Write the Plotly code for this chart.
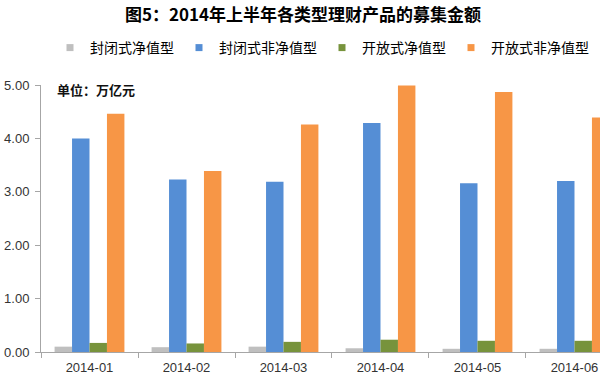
import plotly.graph_objects as go

categories = ["2014-01", "2014-02", "2014-03", "2014-04", "2014-05", "2014-06"]
closed_nav = [0.10, 0.09, 0.10, 0.07, 0.06, 0.06]
closed_non_nav = [4.00, 3.23, 3.19, 4.29, 3.16, 3.20]
open_nav = [0.17, 0.16, 0.19, 0.23, 0.21, 0.21]
open_non_nav = [4.46, 3.39, 4.26, 4.99, 4.87, 4.39]
y_ticks = [0, 1, 2, 3, 4, 5]
y_tick_labels = ["0.00", "1.00", "2.00", "3.00", "4.00", "5.00"]

series = [
    ("封闭式净值型", closed_nav, "#BFBFBF"),
    ("封闭式非净值型", closed_non_nav, "#558ED5"),
    ("开放式净值型", open_nav, "#77933C"),
    ("开放式非净值型", open_non_nav, "#F79646"),
]

cjk = "Noto Sans CJK SC"
latin = "Liberation Sans, Arial"

L, R, T, B = 41, 0, 85, 20
PW, PH = 600 - L - R, 375 - T - B

fig = go.Figure()
for name, vals, color in series:
    fig.add_trace(go.Bar(x=categories, y=vals, name=name, legendgroup=name,
                         showlegend=False,
                         marker=dict(color=color, line=dict(width=0))))
for name, vals, color in series:
    # legend key: small square swatch, as in the reference
    fig.add_trace(go.Scatter(x=[None], y=[None], name=name, legendgroup=name,
                             mode="markers", hoverinfo="skip",
                             marker=dict(symbol="square", size=7, color=color)))

fig.update_layout(
    width=600, height=375,
    margin=dict(l=L, r=R, t=T, b=B),
    paper_bgcolor="white", plot_bgcolor="white",
    barmode="group", bargap=0.28, bargroupgap=0,
    title=dict(text="<b>图5：2014年上半年各类型理财产品的募集金额</b>",
               x=303/600, xanchor="center", y=1-15/375, yanchor="middle",
               xref="container", yref="container",
               font=dict(family=cjk, size=17, color="#000")),
    legend=dict(orientation="h", x=50/600, xanchor="left", y=1-48/375, yanchor="middle",
                xref="container", yref="container",
                font=dict(family=cjk, size=14, color="#000"),
                itemclick=False, itemdoubleclick=False),
    showlegend=True,
)
fig.update_xaxes(
    type="category", range=[-0.5, 5.263],
    showline=True, linecolor="#A6A6A6", linewidth=1,
    ticks="outside", tickson="boundaries", ticklen=5, tickcolor="#A6A6A6",
    tickfont=dict(family=latin, size=13, color="#333"),
    ticklabelstandoff=3,
    showgrid=False, zeroline=False,
)
fig.update_yaxes(
    range=[0, 5], tickvals=y_ticks, ticktext=y_tick_labels,
    showline=True, linecolor="#A6A6A6", linewidth=1,
    ticks="outside", ticklen=5, tickcolor="#A6A6A6",
    tickfont=dict(family=latin, size=13, color="#333"),
    ticklabelstandoff=3,
    showgrid=False, zeroline=False,
)
fig.add_annotation(text="<b>单位：万亿元</b>", x=(55 - L)/PW, xref="paper", xanchor="left",
                   y=(375 - B - 90)/PH, yref="paper", yanchor="middle", showarrow=False,
                   font=dict(family=cjk, size=13, color="#111"))
fig.write_html("out.html", config={"displayModeBar": False},
               post_script="document.body.style.margin='0';document.body.style.overflow='hidden';")
